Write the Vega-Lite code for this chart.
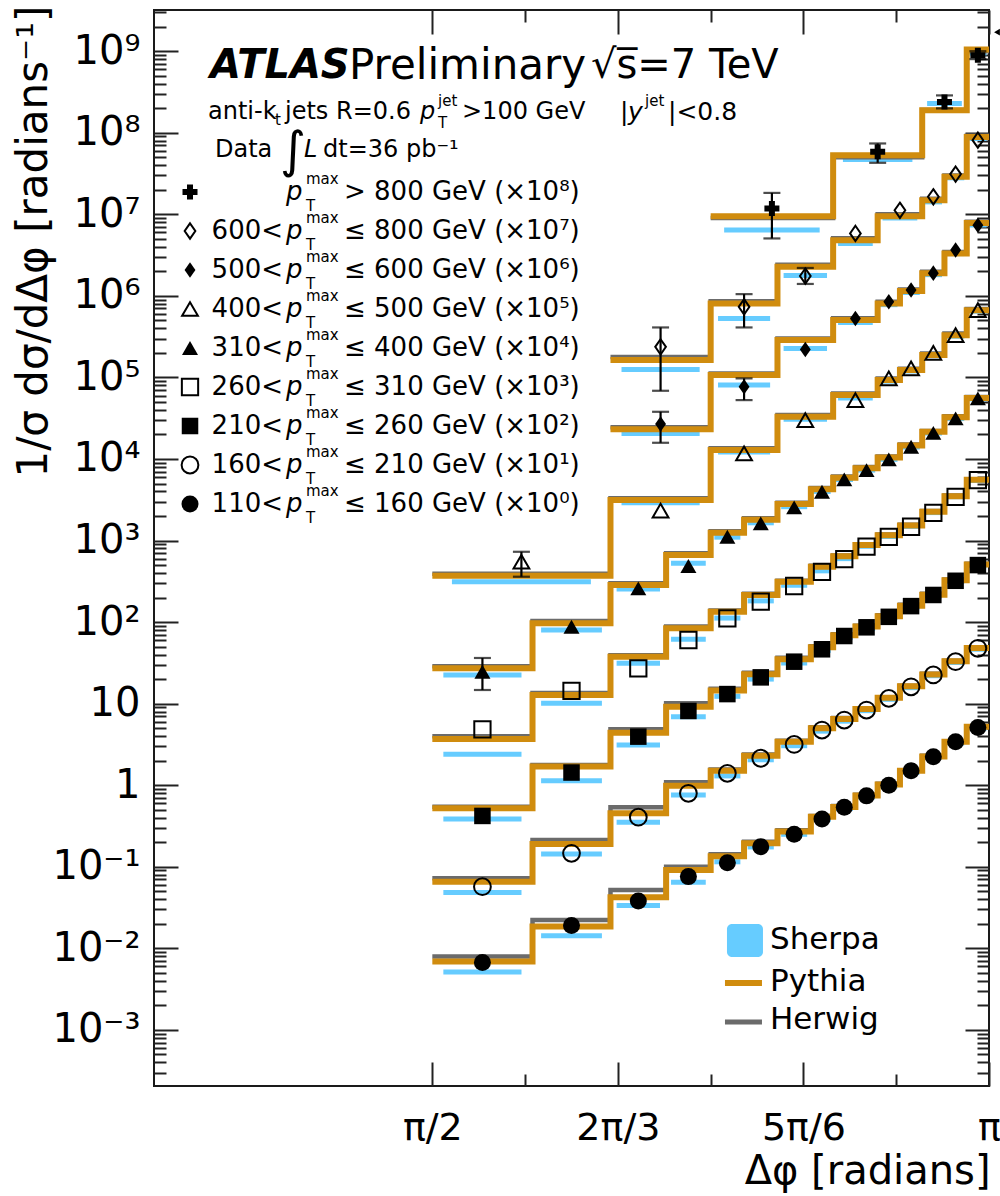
{
  "$schema": "https://vega.github.io/schema/vega-lite/v6.json",
  "width": 835,
  "height": 1076,
  "autosize": {"type": "none"},
  "padding": {"left": 154, "top": 10, "right": 11, "bottom": 110},
  "background": "white",
  "config": {
    "font": "DejaVu Sans",
    "view": {"stroke": "#1a1a1a", "strokeWidth": 2},
    "axis": {"grid": false, "domain": false, "tickColor": "#222222", "tickWidth": 2, "labelColor": "#000000", "titleColor": "#000000", "labelFont": "DejaVu Sans", "titleFont": "DejaVu Sans"},
    "text": {"color": "#000000", "font": "DejaVu Sans"}
  },
  "datasets": {
    "steps": [
      {"s":"p110","x":1.5708,"p":0.00687,"h":0.00791},{"s":"p110","x":1.8535,"p":0.01845,"h":0.0223},{"s":"p110","x":2.0735,"p":0.0423,"h":0.052},{"s":"p110","x":2.2305,"p":0.0914,"h":0.1002},{"s":"p110","x":2.3562,"p":0.135,"h":0.142},{"s":"p110","x":2.4504,"p":0.194,"h":0.203},{"s":"p110","x":2.5447,"p":0.27,"h":0.28},{"s":"p110","x":2.6389,"p":0.41,"h":0.42},{"s":"p110","x":2.7018,"p":0.54,"h":0.555},{"s":"p110","x":2.7646,"p":0.75,"h":0.765},{"s":"p110","x":2.8274,"p":1.02,"h":1.04},{"s":"p110","x":2.8903,"p":1.5,"h":1.53},{"s":"p110","x":2.9531,"p":2.25,"h":2.29},{"s":"p110","x":3.0159,"p":3.4,"h":3.46},{"s":"p110","x":3.0788,"p":5.2,"h":5.3},{"s":"p110","x":3.14159,"p":5.2,"h":5.3},
      {"s":"p160","x":1.5708,"p":0.0657,"h":0.0723},{"s":"p160","x":1.8535,"p":0.1905,"h":0.213},{"s":"p160","x":2.0735,"p":0.453,"h":0.536},{"s":"p160","x":2.2305,"p":0.986,"h":1.086},{"s":"p160","x":2.3562,"p":1.5,"h":1.56},{"s":"p160","x":2.4504,"p":2.3,"h":2.38},{"s":"p160","x":2.5447,"p":3.4,"h":3.5},{"s":"p160","x":2.6389,"p":5.0,"h":5.15},{"s":"p160","x":2.7018,"p":6.5,"h":6.65},{"s":"p160","x":2.7646,"p":8.6,"h":8.8},{"s":"p160","x":2.8274,"p":11.8,"h":12.0},{"s":"p160","x":2.8903,"p":16.3,"h":16.6},{"s":"p160","x":2.9531,"p":22.8,"h":23.2},{"s":"p160","x":3.0159,"p":33,"h":33.5},{"s":"p160","x":3.0788,"p":48,"h":48.8},{"s":"p160","x":3.14159,"p":48,"h":48.8},
      {"s":"p210","x":1.5708,"p":0.521,"h":0.546},{"s":"p210","x":1.8535,"p":1.69,"h":1.77},{"s":"p210","x":2.0735,"p":4.4,"h":4.84},{"s":"p210","x":2.2305,"p":9.18,"h":10.1},{"s":"p210","x":2.3562,"p":14.5,"h":15.2},{"s":"p210","x":2.4504,"p":23,"h":24},{"s":"p210","x":2.5447,"p":35,"h":36.5},{"s":"p210","x":2.6389,"p":49,"h":50.5},{"s":"p210","x":2.7018,"p":69,"h":71},{"s":"p210","x":2.7646,"p":88,"h":90},{"s":"p210","x":2.8274,"p":118,"h":121},{"s":"p210","x":2.8903,"p":159,"h":163},{"s":"p210","x":2.9531,"p":217,"h":222},{"s":"p210","x":3.0159,"p":325,"h":332},{"s":"p210","x":3.0788,"p":510,"h":520},{"s":"p210","x":3.14159,"p":510,"h":520},
      {"s":"p260","x":1.5708,"p":3.68,"h":3.99},{"s":"p260","x":1.8535,"p":12.8,"h":13.5},{"s":"p260","x":2.0735,"p":37.6,"h":39.3},{"s":"p260","x":2.2305,"p":83.8,"h":88},{"s":"p260","x":2.3562,"p":134,"h":139},{"s":"p260","x":2.4504,"p":215,"h":222},{"s":"p260","x":2.5447,"p":313,"h":322},{"s":"p260","x":2.6389,"p":478,"h":490},{"s":"p260","x":2.7018,"p":640,"h":655},{"s":"p260","x":2.7646,"p":880,"h":900},{"s":"p260","x":2.8274,"p":1160,"h":1185},{"s":"p260","x":2.8903,"p":1530,"h":1560},{"s":"p260","x":2.9531,"p":2250,"h":2300},{"s":"p260","x":3.0159,"p":3500,"h":3560},{"s":"p260","x":3.0788,"p":5550,"h":5650},{"s":"p260","x":3.14159,"p":5550,"h":5650},
      {"s":"p310","x":1.5708,"p":27.1,"h":28.8},{"s":"p310","x":1.8535,"p":96.6,"h":103},{"s":"p310","x":2.0735,"p":284,"h":300},{"s":"p310","x":2.2305,"p":664,"h":700},{"s":"p310","x":2.3562,"p":1250,"h":1300},{"s":"p310","x":2.4504,"p":1800,"h":1870},{"s":"p310","x":2.5447,"p":2800,"h":2900},{"s":"p310","x":2.6389,"p":4250,"h":4400},{"s":"p310","x":2.7018,"p":5900,"h":6100},{"s":"p310","x":2.7646,"p":7700,"h":7950},{"s":"p310","x":2.8274,"p":10400,"h":10700},{"s":"p310","x":2.8903,"p":14600,"h":15000},{"s":"p310","x":2.9531,"p":21500,"h":22100},{"s":"p310","x":3.0159,"p":32500,"h":33300},{"s":"p310","x":3.0788,"p":56000,"h":57500},{"s":"p310","x":3.14159,"p":56000,"h":57500},
      {"s":"p400","x":1.5708,"p":370,"h":392},{"s":"p400","x":2.0735,"p":3130,"h":3310},{"s":"p400","x":2.3562,"p":12900,"h":13500},{"s":"p400","x":2.5447,"p":32900,"h":34500},{"s":"p400","x":2.7018,"p":60700,"h":63500},{"s":"p400","x":2.8274,"p":92700,"h":97000},{"s":"p400","x":2.8903,"p":123000,"h":128000},{"s":"p400","x":2.9531,"p":188000,"h":196000},{"s":"p400","x":3.0159,"p":330000,"h":345000},{"s":"p400","x":3.0788,"p":668000,"h":690000},{"s":"p400","x":3.14159,"p":668000,"h":690000},
      {"s":"p500","x":2.0735,"p":23100,"h":24500},{"s":"p500","x":2.3562,"p":107000,"h":112000},{"s":"p500","x":2.5447,"p":287000,"h":300000},{"s":"p500","x":2.7018,"p":505000,"h":530000},{"s":"p500","x":2.8274,"p":807000,"h":845000},{"s":"p500","x":2.8903,"p":1150000,"h":1200000},{"s":"p500","x":2.9531,"p":1900000,"h":1980000},{"s":"p500","x":3.0159,"p":3300000,"h":3450000},{"s":"p500","x":3.0788,"p":7800000,"h":8100000},{"s":"p500","x":3.14159,"p":7800000,"h":8100000},
      {"s":"p600","x":2.0735,"p":163000,"h":178000},{"s":"p600","x":2.3562,"p":807000,"h":860000},{"s":"p600","x":2.5447,"p":2270000,"h":2400000},{"s":"p600","x":2.7018,"p":4820000,"h":5100000},{"s":"p600","x":2.8274,"p":9490000,"h":10000000},{"s":"p600","x":2.9531,"p":14900000,"h":15500000},{"s":"p600","x":3.0159,"p":28800000,"h":30000000},{"s":"p600","x":3.0788,"p":89000000,"h":92000000},{"s":"p600","x":3.14159,"p":89000000,"h":92000000},
      {"s":"p800","x":2.3562,"p":9490000,"h":8980000},{"s":"p800","x":2.7018,"p":53100000,"h":50000000},{"s":"p800","x":2.9531,"p":189000000,"h":190000000},{"s":"p800","x":3.0788,"p":1050000000,"h":1000000000},{"s":"p800","x":3.14159,"p":1050000000,"h":1000000000}
    ],
    "bins": [
      {"s":"p110","a":1.5708,"b":1.8535,"x":1.71215,"v":0.0067,"sh":0.00513},{"s":"p110","a":1.8535,"b":2.0735,"x":1.9635,"v":0.019,"sh":0.01429},{"s":"p110","a":2.0735,"b":2.2305,"x":2.152,"v":0.038,"sh":0.0334},{"s":"p110","a":2.2305,"b":2.3562,"x":2.29335,"v":0.0757,"sh":0.0646},{"s":"p110","a":2.3562,"b":2.4504,"x":2.4033,"v":0.112,"sh":0.115},{"s":"p110","a":2.4504,"b":2.5447,"x":2.49755,"v":0.176,"sh":0.175},{"s":"p110","a":2.5447,"b":2.6389,"x":2.5918,"v":0.25,"sh":0.25},{"s":"p110","a":2.6389,"b":2.7018,"x":2.67035,"v":0.385,"sh":0.38},{"s":"p110","a":2.7018,"b":2.7646,"x":2.7332,"v":0.535,"sh":0.52},{"s":"p110","a":2.7646,"b":2.8274,"x":2.796,"v":0.74,"sh":0.72},{"s":"p110","a":2.8274,"b":2.8903,"x":2.85885,"v":1.0,"sh":0.98},{"s":"p110","a":2.8903,"b":2.9531,"x":2.9217,"v":1.5,"sh":1.45},{"s":"p110","a":2.9531,"b":3.0159,"x":2.9845,"v":2.24,"sh":2.2},{"s":"p110","a":3.0159,"b":3.0788,"x":3.04735,"v":3.4,"sh":3.3},{"s":"p110","a":3.0788,"b":3.14159,"x":3.1102,"v":5.1,"sh":5.0},
      {"s":"p160","a":1.5708,"b":1.8535,"x":1.71215,"v":0.057,"sh":0.0482},{"s":"p160","a":1.8535,"b":2.0735,"x":1.9635,"v":0.146,"sh":0.1435},{"s":"p160","a":2.0735,"b":2.2305,"x":2.152,"v":0.405,"sh":0.351},{"s":"p160","a":2.2305,"b":2.3562,"x":2.29335,"v":0.796,"sh":0.759},{"s":"p160","a":2.3562,"b":2.4504,"x":2.4033,"v":1.4,"sh":1.3},{"s":"p160","a":2.4504,"b":2.5447,"x":2.49755,"v":2.14,"sh":2.05},{"s":"p160","a":2.5447,"b":2.6389,"x":2.5918,"v":3.16,"sh":3.05},{"s":"p160","a":2.6389,"b":2.7018,"x":2.67035,"v":4.75,"sh":4.6},{"s":"p160","a":2.7018,"b":2.7646,"x":2.7332,"v":6.3,"sh":6.1},{"s":"p160","a":2.7646,"b":2.8274,"x":2.796,"v":8.35,"sh":8.2},{"s":"p160","a":2.8274,"b":2.8903,"x":2.85885,"v":11.6,"sh":11.3},{"s":"p160","a":2.8903,"b":2.9531,"x":2.9217,"v":16.1,"sh":15.7},{"s":"p160","a":2.9531,"b":3.0159,"x":2.9845,"v":22.5,"sh":22},{"s":"p160","a":3.0159,"b":3.0788,"x":3.04735,"v":32.7,"sh":32},{"s":"p160","a":3.0788,"b":3.14159,"x":3.1102,"v":47.7,"sh":46.5},
      {"s":"p210","a":1.5708,"b":1.8535,"x":1.71215,"v":0.42,"sh":0.385},{"s":"p210","a":1.8535,"b":2.0735,"x":1.9635,"v":1.43,"sh":1.135},{"s":"p210","a":2.0735,"b":2.2305,"x":2.152,"v":3.94,"sh":3.11},{"s":"p210","a":2.2305,"b":2.3562,"x":2.29335,"v":8.13,"sh":6.92},{"s":"p210","a":2.3562,"b":2.4504,"x":2.4033,"v":13.1,"sh":12.3},{"s":"p210","a":2.4504,"b":2.5447,"x":2.49755,"v":21.0,"sh":20},{"s":"p210","a":2.5447,"b":2.6389,"x":2.5918,"v":32.7,"sh":31.5},{"s":"p210","a":2.6389,"b":2.7018,"x":2.67035,"v":46.4,"sh":45},{"s":"p210","a":2.7018,"b":2.7646,"x":2.7332,"v":67.5,"sh":65},{"s":"p210","a":2.7646,"b":2.8274,"x":2.796,"v":86.3,"sh":84},{"s":"p210","a":2.8274,"b":2.8903,"x":2.85885,"v":116,"sh":113},{"s":"p210","a":2.8903,"b":2.9531,"x":2.9217,"v":157,"sh":154},{"s":"p210","a":2.9531,"b":3.0159,"x":2.9845,"v":215,"sh":210},{"s":"p210","a":3.0159,"b":3.0788,"x":3.04735,"v":321,"sh":315},{"s":"p210","a":3.0788,"b":3.14159,"x":3.1102,"v":500,"sh":490},
      {"s":"p260","a":1.5708,"b":1.8535,"x":1.71215,"v":4.84,"sh":2.39},{"s":"p260","a":1.8535,"b":2.0735,"x":1.9635,"v":14.3,"sh":10.1},{"s":"p260","a":2.0735,"b":2.2305,"x":2.152,"v":27.1,"sh":31.2},{"s":"p260","a":2.2305,"b":2.3562,"x":2.29335,"v":60.3,"sh":61.5},{"s":"p260","a":2.3562,"b":2.4504,"x":2.4033,"v":111,"sh":112},{"s":"p260","a":2.4504,"b":2.5447,"x":2.49755,"v":178,"sh":182},{"s":"p260","a":2.5447,"b":2.6389,"x":2.5918,"v":277,"sh":283},{"s":"p260","a":2.6389,"b":2.7018,"x":2.67035,"v":414,"sh":425},{"s":"p260","a":2.7018,"b":2.7646,"x":2.7332,"v":593,"sh":600},{"s":"p260","a":2.7646,"b":2.8274,"x":2.796,"v":844,"sh":850},{"s":"p260","a":2.8274,"b":2.8903,"x":2.85885,"v":1112,"sh":1120},{"s":"p260","a":2.8903,"b":2.9531,"x":2.9217,"v":1476,"sh":1490},{"s":"p260","a":2.9531,"b":3.0159,"x":2.9845,"v":2190,"sh":2200},{"s":"p260","a":3.0159,"b":3.0788,"x":3.04735,"v":3440,"sh":3450},{"s":"p260","a":3.0788,"b":3.14159,"x":3.1102,"v":5510,"sh":5450},
      {"s":"p310","a":1.5708,"b":1.8535,"x":1.71215,"v":24.6,"sh":22.4,"lo":14.7,"hi":36.3},{"s":"p310","a":1.8535,"b":2.0735,"x":1.9635,"v":87.7,"sh":80},{"s":"p310","a":2.0735,"b":2.2305,"x":2.152,"v":259,"sh":254},{"s":"p310","a":2.2305,"b":2.3562,"x":2.29335,"v":487,"sh":525},{"s":"p310","a":2.3562,"b":2.4504,"x":2.4033,"v":1112,"sh":1100},{"s":"p310","a":2.4504,"b":2.5447,"x":2.49755,"v":1625,"sh":1650},{"s":"p310","a":2.5447,"b":2.6389,"x":2.5918,"v":2550,"sh":2600},{"s":"p310","a":2.6389,"b":2.7018,"x":2.67035,"v":3960,"sh":4000},{"s":"p310","a":2.7018,"b":2.7646,"x":2.7332,"v":5620,"sh":5600},{"s":"p310","a":2.7646,"b":2.8274,"x":2.796,"v":7310,"sh":7300},{"s":"p310","a":2.8274,"b":2.8903,"x":2.85885,"v":9890,"sh":9900},{"s":"p310","a":2.8903,"b":2.9531,"x":2.9217,"v":14100,"sh":14000},{"s":"p310","a":2.9531,"b":3.0159,"x":2.9845,"v":20900,"sh":20800},{"s":"p310","a":3.0159,"b":3.0788,"x":3.04735,"v":31500,"sh":31300},{"s":"p310","a":3.0788,"b":3.14159,"x":3.1102,"v":55300,"sh":54500},
      {"s":"p400","a":1.5708,"b":2.0735,"x":1.82215,"v":550,"sh":313,"lo":360,"hi":728},{"s":"p400","a":2.0735,"b":2.3562,"x":2.21485,"v":2330,"sh":2900},{"s":"p400","a":2.3562,"b":2.5447,"x":2.45045,"v":11700,"sh":12200},{"s":"p400","a":2.5447,"b":2.7018,"x":2.62325,"v":30000,"sh":30800},{"s":"p400","a":2.7018,"b":2.8274,"x":2.7646,"v":52700,"sh":56000},{"s":"p400","a":2.8274,"b":2.8903,"x":2.85885,"v":97300,"sh":90000},{"s":"p400","a":2.8903,"b":2.9531,"x":2.9217,"v":129000,"sh":120000},{"s":"p400","a":2.9531,"b":3.0159,"x":2.9845,"v":200000,"sh":185000},{"s":"p400","a":3.0159,"b":3.0788,"x":3.04735,"v":330000,"sh":320000},{"s":"p400","a":3.0788,"b":3.14159,"x":3.1102,"v":668000,"sh":650000},
      {"s":"p500","a":2.0735,"b":2.3562,"x":2.21485,"v":26800,"sh":20600,"lo":15800,"hi":37900},{"s":"p500","a":2.3562,"b":2.5447,"x":2.45045,"v":76800,"sh":80500,"lo":52700,"hi":97300},{"s":"p500","a":2.5447,"b":2.7018,"x":2.62325,"v":220000,"sh":227000},{"s":"p500","a":2.7018,"b":2.8274,"x":2.7646,"v":529000,"sh":470000},{"s":"p500","a":2.8274,"b":2.8903,"x":2.85885,"v":845000,"sh":780000},{"s":"p500","a":2.8903,"b":2.9531,"x":2.9217,"v":1180000,"sh":1100000},{"s":"p500","a":2.9531,"b":3.0159,"x":2.9845,"v":1900000,"sh":1820000},{"s":"p500","a":3.0159,"b":3.0788,"x":3.04735,"v":3640000,"sh":3300000},{"s":"p500","a":3.0788,"b":3.14159,"x":3.1102,"v":7360000,"sh":7400000},
      {"s":"p600","a":2.0735,"b":2.3562,"x":2.21485,"v":237000,"sh":125000,"lo":68600,"hi":410000},{"s":"p600","a":2.3562,"b":2.5447,"x":2.45045,"v":734000,"sh":529000,"lo":410000,"hi":1050000},{"s":"p600","a":2.5447,"b":2.7018,"x":2.62325,"v":1750000,"sh":1780000,"lo":1400000,"hi":2200000},{"s":"p600","a":2.7018,"b":2.8274,"x":2.7646,"v":5830000,"sh":4400000},{"s":"p600","a":2.8274,"b":2.9531,"x":2.89025,"v":11200000,"sh":9000000},{"s":"p600","a":2.9531,"b":3.0159,"x":2.9845,"v":16400000,"sh":14200000},{"s":"p600","a":3.0159,"b":3.0788,"x":3.04735,"v":31100000,"sh":28000000},{"s":"p600","a":3.0788,"b":3.14159,"x":3.1102,"v":81100000,"sh":85000000},
      {"s":"p800","a":2.3562,"b":2.7018,"x":2.529,"v":11800000,"sh":6400000,"lo":5060000,"hi":18300000},{"s":"p800","a":2.7018,"b":2.9531,"x":2.82745,"v":58300000,"sh":47000000,"lo":42800000,"hi":73900000},{"s":"p800","a":2.9531,"b":3.0788,"x":3.01595,"v":239000000,"sh":228000000,"lo":199000000,"hi":287000000},{"s":"p800","a":3.0788,"b":3.14159,"x":3.1102,"v":893000000,"sh":950000000,"lo":800000000,"hi":1000000000}
    ],
    "legend": [
      {"s":"p800","lead":"","rel":"> 800 GeV (×10⁸)"},
      {"s":"p600","lead":"600<","rel":"≤ 800 GeV (×10⁷)"},
      {"s":"p500","lead":"500<","rel":"≤ 600 GeV (×10⁶)"},
      {"s":"p400","lead":"400<","rel":"≤ 500 GeV (×10⁵)"},
      {"s":"p310","lead":"310<","rel":"≤ 400 GeV (×10⁴)"},
      {"s":"p260","lead":"260<","rel":"≤ 310 GeV (×10³)"},
      {"s":"p210","lead":"210<","rel":"≤ 260 GeV (×10²)"},
      {"s":"p160","lead":"160<","rel":"≤ 210 GeV (×10¹)"},
      {"s":"p110","lead":"110<","rel":"≤ 160 GeV (×10⁰)"}
    ]
  },
  "layer": [
    {
      "layer": [
        {
          "data": {"name": "bins"},
          "transform": [
            {"calculate": "datum.a + 0.11 * (datum.b - datum.a)", "as": "sa"},
            {"calculate": "datum.b - 0.11 * (datum.b - datum.a)", "as": "sb"}
          ],
          "mark": {"type": "rule", "color": "#66ccff", "strokeWidth": 5},
          "encoding": {
            "x": {"field": "sa", "type": "quantitative", "scale": {"domain": [0.7853982, 3.1415927], "nice": false, "zero": false},
                  "axis": {"orient": "top", "values": [1.5707963, 2.0943951, 2.6179939, 3.1415927], "tickSize": -24, "labels": false, "title": null}},
            "x2": {"field": "sb"},
            "y": {"field": "sh", "type": "quantitative", "scale": {"type": "log", "domain": [0.000205, 3.2e9], "nice": false},
                  "axis": {"orient": "right", "values": [0.001, 0.01, 0.1, 1, 10, 100, 1000, 10000, 100000, 1000000, 10000000, 100000000, 1000000000], "tickSize": -24, "labels": false, "title": null}}
          }
        },
        {
          "data": {"name": "steps"},
          "mark": {"type": "line", "interpolate": "step-after", "color": "#6b6b6b", "strokeWidth": 4.5},
          "encoding": {
            "x": {"field": "x", "type": "quantitative", "scale": {"domain": [0.7853982, 3.1415927], "nice": false, "zero": false},
                  "axis": {"orient": "bottom", "values": [1.8325957, 2.3561945, 2.8797933], "tickSize": -12, "labels": false, "title": null}},
            "y": {"field": "h", "type": "quantitative", "scale": {"type": "log", "domain": [0.000205, 3.2e9], "nice": false},
                  "axis": {"orient": "left", "values": [3e-4,4e-4,5e-4,6e-4,7e-4,8e-4,9e-4,2e-3,3e-3,4e-3,5e-3,6e-3,7e-3,8e-3,9e-3,0.02,0.03,0.04,0.05,0.06,0.07,0.08,0.09,0.2,0.3,0.4,0.5,0.6,0.7,0.8,0.9,2,3,4,5,6,7,8,9,20,30,40,50,60,70,80,90,200,300,400,500,600,700,800,900,2000,3000,4000,5000,6000,7000,8000,9000,2e4,3e4,4e4,5e4,6e4,7e4,8e4,9e4,2e5,3e5,4e5,5e5,6e5,7e5,8e5,9e5,2e6,3e6,4e6,5e6,6e6,7e6,8e6,9e6,2e7,3e7,4e7,5e7,6e7,7e7,8e7,9e7,2e8,3e8,4e8,5e8,6e8,7e8,8e8,9e8,2e9,3e9], "tickSize": -12, "labels": false, "title": null}},
            "detail": {"field": "s", "type": "nominal"}
          }
        },
        {
          "data": {"name": "steps"},
          "mark": {"type": "line", "interpolate": "step-after", "color": "#d08c0e", "strokeWidth": 6},
          "encoding": {
            "x": {"field": "x", "type": "quantitative", "scale": {"domain": [0.7853982, 3.1415927], "nice": false, "zero": false},
                  "axis": {"orient": "bottom", "values": [1.5707963, 2.0943951, 2.6179939, 3.1415927], "tickSize": -24, "labelPadding": 47, "labelFontSize": 38, "labelBaseline": "top", "labelAlign": "center", "labelBound": false, "labelOverlap": false, "labelFlush": 1, "labelFlushOffset": 7,
                           "labelExpr": "datum.value < 1.8 ? 'π/2' : datum.value < 2.3 ? '2π/3' : datum.value < 2.8 ? '5π/6' : 'π'",
                           "title": "Δφ [radians]", "titleFontSize": 40, "titleFontWeight": "normal", "titleX": 836, "titleY": 85, "titleAlign": "right", "titleBaseline": "middle", "titleAngle": 0}},
            "y": {"field": "p", "type": "quantitative", "scale": {"type": "log", "domain": [0.000205, 3.2e9], "nice": false},
                  "axis": {"orient": "left", "values": [0.001, 0.01, 0.1, 1, 10, 100, 1000, 10000, 100000, 1000000, 10000000, 100000000, 1000000000], "tickSize": -24, "labelPadding": 38, "labelFontSize": 40, "labelAlign": "right", "labelBaseline": "middle", "labelBound": false, "labelOverlap": false, "labelFlush": false,
                           "labelExpr": "['10⁻³','10⁻²','10⁻¹','1','10','10²','10³','10⁴','10⁵','10⁶','10⁷','10⁸','10⁹'][round(log(datum.value) / LN10) + 3]",
                           "title": "1/σ dσ/dΔφ [radians⁻¹]", "titleFontSize": 42, "titleFontWeight": "normal", "titleX": -121, "titleY": -5, "titleAlign": "right", "titleBaseline": "middle", "titleAngle": -90}},
            "detail": {"field": "s", "type": "nominal"}
          }
        },
        {
          "data": {"name": "bins"},
          "transform": [{"filter": "isValid(datum.lo)"}],
          "mark": {"type": "errorbar", "ticks": true, "size": 17, "thickness": 2.2, "color": "#000000"},
          "encoding": {
            "x": {"field": "x", "type": "quantitative", "scale": {"domain": [0.7853982, 3.1415927], "nice": false, "zero": false}, "axis": null},
            "y": {"field": "lo", "type": "quantitative", "scale": {"type": "log", "domain": [0.000205, 3.2e9], "nice": false}, "axis": null},
            "y2": {"field": "hi"}
          }
        },
        {
          "data": {"name": "bins"},
          "transform": [{"filter": {"field": "s", "oneOf": ["p800", "p500", "p310", "p210", "p110"]}}],
          "mark": {"type": "point", "filled": true, "opacity": 1, "color": "#000000"},
          "encoding": {
            "x": {"field": "x", "type": "quantitative", "scale": {"domain": [0.7853982, 3.1415927], "nice": false, "zero": false},
                  "axis": {"orient": "top", "values": [1.8325957, 2.3561945, 2.8797933], "tickSize": -12, "labels": false, "title": null}},
            "y": {"field": "v", "type": "quantitative", "scale": {"type": "log", "domain": [0.000205, 3.2e9], "nice": false},
                  "axis": {"orient": "right", "values": [3e-4,4e-4,5e-4,6e-4,7e-4,8e-4,9e-4,2e-3,3e-3,4e-3,5e-3,6e-3,7e-3,8e-3,9e-3,0.02,0.03,0.04,0.05,0.06,0.07,0.08,0.09,0.2,0.3,0.4,0.5,0.6,0.7,0.8,0.9,2,3,4,5,6,7,8,9,20,30,40,50,60,70,80,90,200,300,400,500,600,700,800,900,2000,3000,4000,5000,6000,7000,8000,9000,2e4,3e4,4e4,5e4,6e4,7e4,8e4,9e4,2e5,3e5,4e5,5e5,6e5,7e5,8e5,9e5,2e6,3e6,4e6,5e6,6e6,7e6,8e6,9e6,2e7,3e7,4e7,5e7,6e7,7e7,8e7,9e7,2e8,3e8,4e8,5e8,6e8,7e8,8e8,9e8,2e9,3e9], "tickSize": -12, "labels": false, "title": null}},
            "shape": {"field": "s", "type": "nominal", "legend": null,
                      "scale": {"domain": ["p800","p600","p500","p400","p310","p260","p210","p160","p110"], "range": ["cross","M0,-1L0.7,0L0,1L-0.7,0Z","M0,-1L0.7,0L0,1L-0.7,0Z","triangle-up","triangle-up","square","square","circle","circle"]}},
            "size": {"field": "s", "type": "ordinal", "legend": null,
                     "scale": {"domain": ["p800","p600","p500","p400","p310","p260","p210","p160","p110"], "range": [225, 289, 180, 420, 400, 289, 400, 201, 227]}}
          }
        },
        {
          "data": {"name": "bins"},
          "transform": [{"filter": {"field": "s", "oneOf": ["p600", "p400", "p260", "p160"]}}],
          "mark": {"type": "point", "filled": false, "opacity": 1, "color": "#000000", "strokeWidth": 2},
          "encoding": {
            "x": {"field": "x", "type": "quantitative", "scale": {"domain": [0.7853982, 3.1415927], "nice": false, "zero": false}, "axis": null},
            "y": {"field": "v", "type": "quantitative", "scale": {"type": "log", "domain": [0.000205, 3.2e9], "nice": false}, "axis": null},
            "shape": {"field": "s", "type": "nominal", "legend": null,
                      "scale": {"domain": ["p800","p600","p500","p400","p310","p260","p210","p160","p110"], "range": ["cross","M0,-1L0.7,0L0,1L-0.7,0Z","M0,-1L0.7,0L0,1L-0.7,0Z","triangle-up","triangle-up","square","square","circle","circle"]}},
            "size": {"field": "s", "type": "ordinal", "legend": null,
                     "scale": {"domain": ["p800","p600","p500","p400","p310","p260","p210","p160","p110"], "range": [225, 289, 180, 420, 400, 289, 400, 201, 227]}}
          }
        },
        {
          "data": {"values": [{}]},
          "mark": {"type": "point", "shape": "triangle-left", "filled": true, "opacity": 1, "color": "#000000", "size": 45},
          "encoding": {
            "x": {"datum": 3.1641, "type": "quantitative", "scale": {"domain": [0.7853982, 3.1415927], "nice": false, "zero": false}, "axis": null},
            "y": {"datum": 1710000000, "type": "quantitative", "scale": {"type": "log", "domain": [0.000205, 3.2e9], "nice": false}, "axis": null}
          }
        },
        {
          "data": {"values": [{}]},
          "encoding": {
            "x": {"datum": 0.94341, "type": "quantitative", "scale": {"domain": [0.7853982, 3.1415927], "nice": false, "zero": false}, "axis": null},
            "y": {"datum": 655000000, "type": "quantitative", "scale": {"type": "log", "domain": [0.000205, 3.2e9], "nice": false}, "axis": null}
          },
          "layer": [
            {"mark": {"type": "text", "align": "left", "baseline": "middle", "fontSize": 40, "fontWeight": "bold", "fontStyle": "italic", "text": "ATLAS"}},
            {"mark": {"type": "text", "align": "left", "baseline": "middle", "fontSize": 42, "dx": 139, "text": "Preliminary"}},
            {"mark": {"type": "text", "align": "left", "baseline": "middle", "fontSize": 40, "dx": 381, "text": "√s̅=7 TeV"}},
            {"mark": {"type": "text", "align": "left", "baseline": "middle", "fontSize": 24, "dx": -2, "dy": 46, "text": "anti-k"}},
            {"mark": {"type": "text", "align": "left", "baseline": "middle", "fontSize": 15, "dx": 65, "dy": 54, "text": "t"}},
            {"mark": {"type": "text", "align": "left", "baseline": "middle", "fontSize": 24, "dx": 75, "dy": 46, "text": "jets R=0.6"}},
            {"mark": {"type": "text", "align": "left", "baseline": "middle", "fontSize": 24, "fontStyle": "italic", "dx": 210, "dy": 46, "text": "p"}},
            {"mark": {"type": "text", "align": "left", "baseline": "middle", "fontSize": 15, "dx": 228, "dy": 35, "text": "jet"}},
            {"mark": {"type": "text", "align": "left", "baseline": "middle", "fontSize": 15, "dx": 228, "dy": 57, "text": "T"}},
            {"mark": {"type": "text", "align": "left", "baseline": "middle", "fontSize": 24, "dx": 252, "dy": 46, "text": ">100 GeV"}},
            {"mark": {"type": "text", "align": "left", "baseline": "middle", "fontSize": 25, "dx": 410, "dy": 46, "text": "|"}},
            {"mark": {"type": "text", "align": "left", "baseline": "middle", "fontSize": 25, "fontStyle": "italic", "dx": 418, "dy": 46, "text": "y"}},
            {"mark": {"type": "text", "align": "left", "baseline": "middle", "fontSize": 15, "dx": 435, "dy": 35, "text": "jet"}},
            {"mark": {"type": "text", "align": "left", "baseline": "middle", "fontSize": 25, "dx": 458, "dy": 46, "text": "|<0.8"}},
            {"mark": {"type": "text", "align": "left", "baseline": "middle", "fontSize": 24, "dx": 5, "dy": 84, "text": "Data"}},
            {"mark": {"type": "text", "align": "left", "baseline": "middle", "fontSize": 50, "dx": 70, "dy": 86, "text": "∫"}},
            {"mark": {"type": "text", "align": "left", "baseline": "middle", "fontSize": 24, "fontStyle": "italic", "dx": 94, "dy": 84, "text": "L"}},
            {"mark": {"type": "text", "align": "left", "baseline": "middle", "fontSize": 24, "dx": 113, "dy": 84, "text": "dt=36 pb⁻¹"}}
          ]
        },
        {
          "data": {"values": [{}]},
          "encoding": {
            "x": {"datum": 2.52355, "type": "quantitative", "scale": {"domain": [0.7853982, 3.1415927], "nice": false, "zero": false}, "axis": null},
            "y": {"datum": 0.012668, "type": "quantitative", "scale": {"type": "log", "domain": [0.000205, 3.2e9], "nice": false}, "axis": null}
          },
          "layer": [
            {
              "mark": {"type": "rect", "color": "#66ccff", "cornerRadius": 5},
              "encoding": {
                "x": {"datum": 2.40222, "type": "quantitative", "scale": {"domain": [0.7853982, 3.1415927], "nice": false, "zero": false}, "axis": null},
                "x2": {"datum": 2.5038},
                "y": {"datum": 0.0199, "type": "quantitative", "scale": {"type": "log", "domain": [0.000205, 3.2e9], "nice": false}, "axis": null},
                "y2": {"datum": 0.00783}
              }
            },
            {
              "mark": {"type": "rule", "color": "#d08c0e", "strokeWidth": 6},
              "encoding": {
                "x": {"datum": 2.39658, "type": "quantitative", "scale": {"domain": [0.7853982, 3.1415927], "nice": false, "zero": false}, "axis": null},
                "x2": {"datum": 2.50098},
                "y": {"datum": 0.003764, "type": "quantitative", "scale": {"type": "log", "domain": [0.000205, 3.2e9], "nice": false}, "axis": null}
              }
            },
            {
              "mark": {"type": "rule", "color": "#6b6b6b", "strokeWidth": 5},
              "encoding": {
                "x": {"datum": 2.39658, "type": "quantitative", "scale": {"domain": [0.7853982, 3.1415927], "nice": false, "zero": false}, "axis": null},
                "x2": {"datum": 2.50098},
                "y": {"datum": 0.001252, "type": "quantitative", "scale": {"type": "log", "domain": [0.000205, 3.2e9], "nice": false}, "axis": null}
              }
            },
            {"mark": {"type": "text", "align": "left", "baseline": "middle", "fontSize": 31, "text": "Sherpa"}},
            {"mark": {"type": "text", "align": "left", "baseline": "middle", "fontSize": 31, "dy": 42, "text": "Pythia"}},
            {"mark": {"type": "text", "align": "left", "baseline": "middle", "fontSize": 31, "dy": 80, "text": "Herwig"}}
          ]
        }
      ],
      "resolve": {"axis": {"x": "independent", "y": "independent"}}
    },
    {
      "data": {"name": "legend"},
      "encoding": {
        "x": {"datum": 0.887, "type": "quantitative", "scale": {"domain": [0.7853982, 3.1415927], "nice": false, "zero": false}, "axis": null},
        "y": {"field": "s", "type": "nominal", "axis": null,
              "scale": {"type": "point", "domain": ["p800","p600","p500","p400","p310","p260","p210","p160","p110"], "range": [182, 494], "padding": 0}}
      },
      "layer": [
        {
          "transform": [{"filter": {"field": "s", "oneOf": ["p800", "p500", "p310", "p210", "p110"]}}],
          "mark": {"type": "point", "filled": true, "opacity": 1, "color": "#000000"},
          "encoding": {
            "shape": {"field": "s", "type": "nominal", "legend": null,
                      "scale": {"domain": ["p800","p600","p500","p400","p310","p260","p210","p160","p110"], "range": ["cross","M0,-1L0.7,0L0,1L-0.7,0Z","M0,-1L0.7,0L0,1L-0.7,0Z","triangle-up","triangle-up","square","square","circle","circle"]}},
            "size": {"field": "s", "type": "ordinal", "legend": null,
                     "scale": {"domain": ["p800","p600","p500","p400","p310","p260","p210","p160","p110"], "range": [225, 289, 180, 420, 400, 289, 400, 201, 227]}}
          }
        },
        {
          "transform": [{"filter": {"field": "s", "oneOf": ["p600", "p400", "p260", "p160"]}}],
          "mark": {"type": "point", "filled": false, "opacity": 1, "color": "#000000", "strokeWidth": 2},
          "encoding": {
            "shape": {"field": "s", "type": "nominal", "legend": null,
                      "scale": {"domain": ["p800","p600","p500","p400","p310","p260","p210","p160","p110"], "range": ["cross","M0,-1L0.7,0L0,1L-0.7,0Z","M0,-1L0.7,0L0,1L-0.7,0Z","triangle-up","triangle-up","square","square","circle","circle"]}},
            "size": {"field": "s", "type": "ordinal", "legend": null,
                     "scale": {"domain": ["p800","p600","p500","p400","p310","p260","p210","p160","p110"], "range": [225, 289, 180, 420, 400, 289, 400, 201, 227]}}
          }
        },
        {"mark": {"type": "text", "align": "right", "baseline": "middle", "fontSize": 26, "dx": 93}, "encoding": {"text": {"field": "lead"}}},
        {"mark": {"type": "text", "align": "left", "baseline": "middle", "fontSize": 26, "fontStyle": "italic", "dx": 96, "text": "p"}},
        {"mark": {"type": "text", "align": "left", "baseline": "middle", "fontSize": 15, "dx": 116, "dy": -13, "text": "max"}},
        {"mark": {"type": "text", "align": "left", "baseline": "middle", "fontSize": 15, "dx": 116, "dy": 14, "text": "T"}},
        {"mark": {"type": "text", "align": "left", "baseline": "middle", "fontSize": 26, "dx": 154}, "encoding": {"text": {"field": "rel"}}}
      ]
    }
  ],
  "resolve": {"scale": {"y": "independent"}, "axis": {"x": "independent", "y": "independent"}}
}
